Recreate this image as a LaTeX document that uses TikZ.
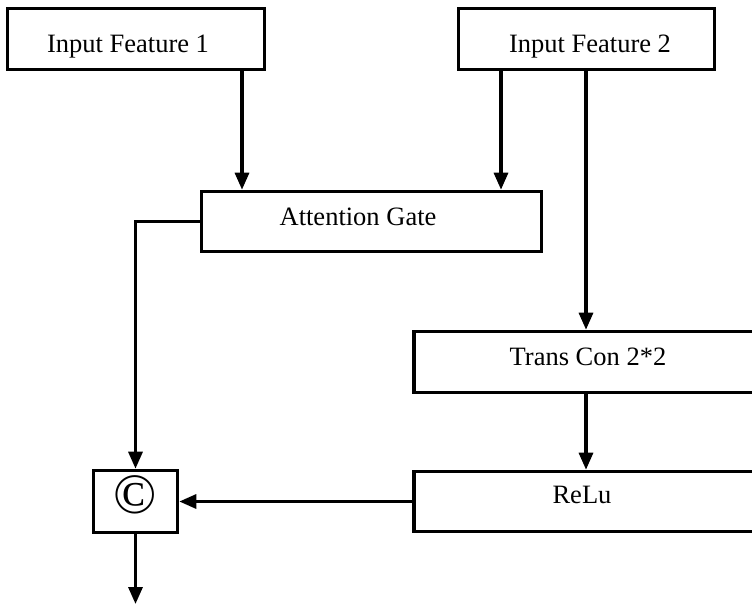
\documentclass[tikz,border=0pt]{standalone}
\usepackage{fontspec}
\setmainfont{Liberation Serif}
\usetikzlibrary{arrows.meta}
\begin{document}
\begin{tikzpicture}[x=1pt,y=-1pt,
  box/.style={draw, line width=3.6pt, fill=white, inner sep=0pt},
  lbl/.style={font=\fontsize{26.5}{30}\selectfont, inner sep=0pt, anchor=base},
  conn/.style={line width=3.2pt, -{Triangle[length=17pt,width=14pt]}}]
\clip (0,0) rectangle (752,605);
% blocks
\node[box, minimum width=257pt, minimum height=61pt] (f1) at (136,39) {};
\node[box, minimum width=256pt, minimum height=61pt] (f2) at (586.5,39) {};
\node[box, minimum width=340pt, minimum height=60pt] (ag) at (371.5,221.5) {};
\node[box, minimum width=386pt, minimum height=61pt] (tc) at (607,362) {};
\node[box, minimum width=386pt, minimum height=60pt] (re) at (607,501.5) {};
\node[box, minimum width=84pt, minimum height=62pt] (cc) at (135.5,501.5) {};
% labels
\node[lbl] (t1) at (128,52) {Input Feature 1};
\node[lbl] (t2) at (590,52) {Input Feature 2};
\node[lbl] (t3) at (358,225) {Attention Gate};
\node[lbl] (t4) at (588,365) {Trans Con 2*2};
\node[lbl] (t5) at (582,503) {ReLu};
\node[font=\fontsize{57}{60}\selectfont, inner sep=0pt] (cs) at (135,495) {©};
% connector columns
\coordinate (a1) at (242,0);
\coordinate (a2) at (501,0);
\coordinate (a3) at (586,0);
\coordinate (out) at (0,604);
% connectors
\draw[conn] (f1.south -| a1) -- (ag.north -| a1);
\draw[conn] (f2.south -| a2) -- (ag.north -| a2);
\draw[conn] (f2.south -| a3) -- (tc.north -| a3);
\draw[conn] (ag.west) -| (cc.north);
\draw[conn] (tc.south -| a3) -- (re.north -| a3);
\draw[conn] (re.west) -- (cc.east);
\draw[conn] (cc.south) -- (cc.south |- out);
\end{tikzpicture}
\end{document}
